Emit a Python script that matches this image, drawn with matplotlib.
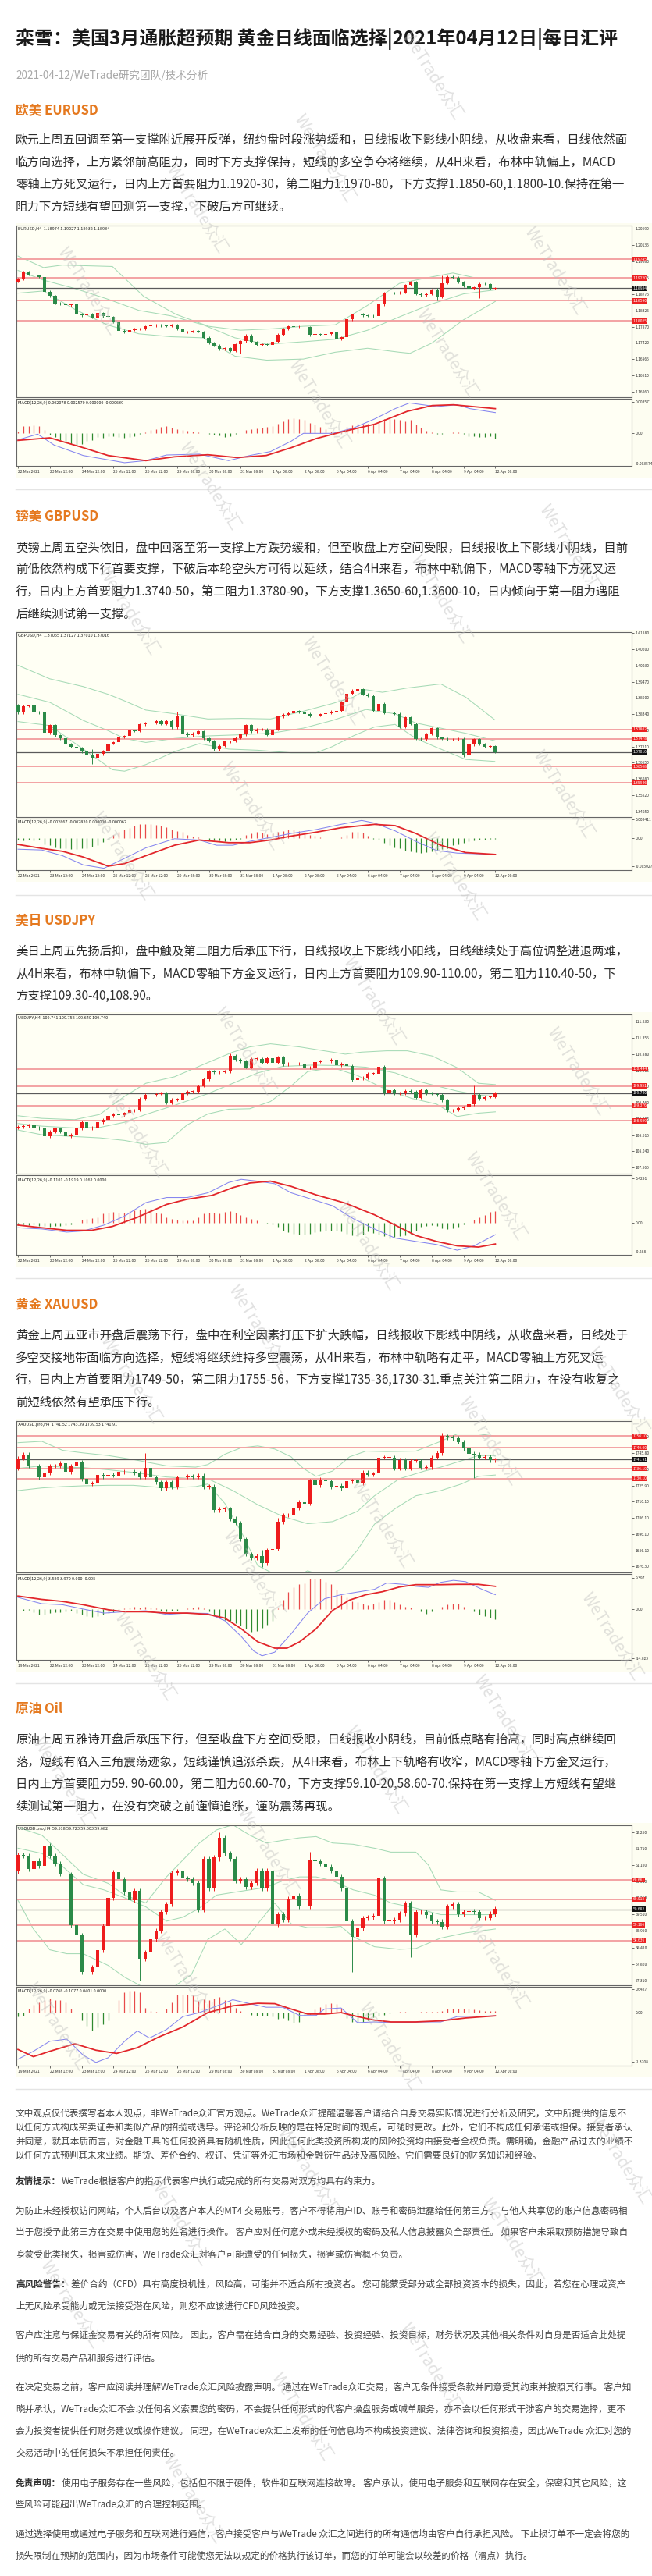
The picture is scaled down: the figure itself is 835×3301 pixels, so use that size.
import numpy as np
import matplotlib.pyplot as plt
from matplotlib.lines import Line2D
from matplotlib.patches import Rectangle

plt.rcParams['font.family'] = ['Noto Sans CJK SC', 'DejaVu Sans']

# ---------------- data ----------------
dates_a = ['22 Mar 2021', '23 Mar 12:00', '24 Mar 12:00', '25 Mar 12:00', '26 Mar 12:00', '29 Mar 08:00',
           '30 Mar 08:00', '31 Mar 08:00', '1 Apr 08:00', '2 Apr 08:00', '5 Apr 04:00', '6 Apr 04:00',
           '7 Apr 04:00', '8 Apr 04:00', '9 Apr 04:00', '12 Apr 00:00']
dates_b = ['19 Mar 2021', '22 Mar 12:00', '23 Mar 12:00', '24 Mar 12:00', '25 Mar 12:00', '26 Mar 12:00',
           '29 Mar 08:00', '30 Mar 08:00', '31 Mar 08:00', '1 Apr 08:00', '5 Apr 04:00', '6 Apr 04:00',
           '7 Apr 04:00', '8 Apr 04:00', '9 Apr 04:00', '12 Apr 00:00']

# EURUSD H4
eur_open0 = 1.1912
eur_close = [1.1920, 1.1940, 1.1932, 1.1928, 1.1925, 1.1884, 1.1872, 1.1852, 1.1850, 1.1846,
             1.1849, 1.1822, 1.1818, 1.1822, 1.1812, 1.1825, 1.1816, 1.1814, 1.1800, 1.1776,
             1.1771, 1.1778, 1.1781, 1.1781, 1.1788, 1.1790, 1.1791, 1.1790, 1.1788, 1.1791,
             1.1781, 1.1772, 1.1773, 1.1775, 1.1773, 1.1756, 1.1741, 1.1735, 1.1725, 1.1727,
             1.1719, 1.1738, 1.1746, 1.1763, 1.1745, 1.1737, 1.1738, 1.1736, 1.1745, 1.1765,
             1.1780, 1.1788, 1.1786, 1.1787, 1.1786, 1.1764, 1.1766, 1.1765, 1.1767, 1.1770,
             1.1753, 1.1758, 1.1807, 1.1820, 1.1822, 1.1818, 1.1817, 1.1816, 1.1848, 1.1880,
             1.1881, 1.1880, 1.1882, 1.1903, 1.1910, 1.1878, 1.1874, 1.1878, 1.1889, 1.1870,
             1.1908, 1.1925, 1.1923, 1.1911, 1.1900, 1.1893, 1.1896, 1.1906, 1.1905, 1.1893, 1.1893]
eur_tails = {19: (1.1808, 1.1762), 42: (1.1750, 1.1712), 62: (1.1810, 1.1748), 79: (1.1895, 1.1860),
             80: (1.1930, 1.1866), 87: (1.1909, 1.1866)}
eur_upper = [(0, 1.1983), (4.8, 1.1951), (8.4, 1.1958), (17.8, 1.1954), (23.7, 1.1871), (29.8, 1.1821),
             (35.9, 1.1788), (41.9, 1.1777), (48, 1.1781), (53.8, 1.1788), (59.8, 1.1792), (65.9, 1.1846),
             (71.9, 1.1907), (78, 1.1925), (82, 1.1936), (86, 1.1923), (90, 1.1920)]
eur_mid = [(0, 1.1943), (4.8, 1.1916), (10.7, 1.1893), (16.8, 1.1864), (22.8, 1.1832), (28.8, 1.1817),
           (34.9, 1.1792), (40.9, 1.1756), (46.9, 1.1738), (53.8, 1.1745), (59.8, 1.1752), (65.9, 1.1777),
           (71.9, 1.1814), (78, 1.1850), (84, 1.1878), (90, 1.1889)]
eur_lower = [(0, 1.1880), (4.8, 1.1886), (10.7, 1.1835), (16.8, 1.1792), (22.8, 1.1767), (28.8, 1.1759),
             (34.9, 1.1756), (40.9, 1.1705), (46.9, 1.1694), (53.8, 1.1697), (59.8, 1.1716), (65.9, 1.1727),
             (71.9, 1.1716), (73.9, 1.1713), (78, 1.1741), (84, 1.1806), (90, 1.1857)]
eur_levels = [1.19745, 1.19220, 1.18590, 1.18025]
eur_last = 1.18934
eur_ticks = [1.20590, 1.20135, 1.19680, 1.19225, 1.18775, 1.18325, 1.17870, 1.17420, 1.16965, 1.16510, 1.16060]
# MACD in units of 0.0001
eur_hist = [1.5, 7.6, 8.2, 8.5, 7.6, 3.0, -2.1, -5.2, -8.2, -11.2, -12.7, -15.2, -13.3, -9.7, -8.2, -5.2,
            -6.1, -4.2, -3.9, -5.2, -5.8, -4.5, -3.6, -1.5, 0.3, 3.0, 4.5, 7.0, 7.6, 6.4, 3.9, 3.0, 2.1,
            1.5, 0.9, 0.0, -1.2, -2.1, -2.7, -4.5, -3.9, -1.5, 0.0, 3.0, 3.9, 5.5, 6.1, 7.0, 7.6, 10.6,
            13.6, 16.1, 16.7, 16.1, 15.2, 11.5, 9.4, 7.0, 3.9, 1.5, -0.6, 0.9, 7.0, 9.1, 10.6, 10.6, 10.6,
            10.0, 12.4, 16.1, 16.1, 16.1, 15.2, 13.6, 15.5, 10.0, 6.4, 2.4, 0.9, -1.2, -1.5, -0.6, 0.9,
            0.9, -1.5, -3.6, -4.2, -4.5, -5.2, -4.2, -6.7]
eur_macd = [(0, -8.2), (3.7, -1.5), (6.8, -14.2), (12.3, -26.4), (20.1, -34.8), (24.1, -32.4), (28, -25.8),
            (34.2, -24.8), (39.7, -32.4), (43.7, -26.4), (47.6, -21.8), (51.5, -9.7), (53.8, -0.6),
            (59.3, -0.6), (63.2, 5.5), (67.2, 16.1), (71.1, 28.2), (73.8, 34.8), (78.9, 30.6), (82.8, 32.7),
            (85.2, 28.2), (90, 23.6)]
eur_signal = [(0, -8.8), (6, -5.8), (12.3, -17.3), (17, -26.4), (24.1, -32.4), (29.5, -27.9), (35.8, -25.5),
              (41.3, -28.8), (46.8, -26.4), (51.5, -17.3), (56.2, -6.7), (60.9, 0.9), (67.2, 10.0),
              (73.4, 25.1), (78.1, 31.8), (82.1, 32.7), (90, 28.2)]

# GBPUSD H4
gbp_open0 = 1.3866
gbp_close = [1.3839, 1.3862, 1.3863, 1.3841, 1.3839, 1.3768, 1.3796, 1.3760, 1.3749, 1.3729,
             1.3720, 1.3717, 1.3703, 1.3693, 1.3681, 1.3695, 1.3705, 1.3732, 1.3736, 1.3754,
             1.3758, 1.3776, 1.3775, 1.3798, 1.3803, 1.3803, 1.3810, 1.3799, 1.3810, 1.3787,
             1.3830, 1.3767, 1.3760, 1.3767, 1.3774, 1.3749, 1.3740, 1.3711, 1.3724, 1.3738,
             1.3739, 1.3751, 1.3763, 1.3796, 1.3774, 1.3780, 1.3780, 1.3762, 1.3780, 1.3825,
             1.3832, 1.3837, 1.3844, 1.3841, 1.3835, 1.3826, 1.3829, 1.3833, 1.3837, 1.3843,
             1.3845, 1.3876, 1.3906, 1.3917, 1.3921, 1.3903, 1.3898, 1.3846, 1.3870, 1.3837,
             1.3837, 1.3835, 1.3790, 1.3823, 1.3800, 1.3748, 1.3746, 1.3766, 1.3784, 1.3752,
             1.3748, 1.3746, 1.3746, 1.3748, 1.3693, 1.3728, 1.3746, 1.3730, 1.3721, 1.3722, 1.3702]
gbp_tails = {14: (1.3712, 1.3660), 30: (1.3842, 1.3783), 64: (1.3935, 1.3912), 84: (1.3752, 1.3685)}
gbp_upper = [(0, 1.4004), (6, 1.3957), (12.3, 1.3930), (17, 1.3903), (20.1, 1.3880), (24.1, 1.3848),
             (29.5, 1.3835), (35.8, 1.3817), (42.1, 1.3819), (47.6, 1.3817), (53.8, 1.3844), (59.3, 1.3871),
             (63.2, 1.3893), (65.6, 1.3919), (68.7, 1.3910), (73.4, 1.3925), (79.7, 1.3939), (84.4, 1.3893),
             (89.9, 1.3814)]
gbp_mid = [(0, 1.3903), (6, 1.3875), (12.3, 1.3812), (17, 1.3776), (20.1, 1.3749), (24.1, 1.3735),
           (29.5, 1.3749), (35.8, 1.3758), (42.1, 1.3762), (47.6, 1.3767), (53.8, 1.3785), (59.3, 1.3812),
           (65.6, 1.3850), (71.1, 1.3835), (75, 1.3803), (79.7, 1.3785), (84.4, 1.3767), (89.9, 1.3741)]
gbp_lower = [(0, 1.3808), (6, 1.3794), (12.3, 1.3712), (17.8, 1.3640), (20.1, 1.3635), (24.1, 1.3658),
             (29.5, 1.3703), (34.2, 1.3731), (39.7, 1.3712), (45.2, 1.3708), (51.5, 1.3699), (56.2, 1.3699),
             (59.3, 1.3721), (63.2, 1.3758), (67.2, 1.3789), (71.1, 1.3798), (75, 1.3749), (79.7, 1.3712),
             (84.4, 1.3676), (89.9, 1.3669)]
gbp_levels = [1.37802, 1.37478, 1.36508, 1.35946]
gbp_last = 1.37016
gbp_ticks = [1.41180, 1.40600, 1.40030, 1.39470, 1.38900, 1.38340, 1.37780, 1.37210, 1.36650, 1.36080,
             1.35520, 1.34950]
gbp_hist = [-3.3, -4.3, -2.4, -4.3, -3.3, -10.5, -12.8, -16.6, -17.6, -18.5, -20.0, -20.0, -18.5, -17.6,
            -15.2, -12.8, -7.1, -2.4, 5.2, 10.9, 15.7, 18.1, 22.8, 25.2, 25.2, 25.2, 24.2, 22.8, 19.5, 15.7,
            13.3, 10.9, 6.2, 2.4, 1.4, 0, -2.4, -4.3, -4.3, -5.7, -4.3, -3.3, -1.4, 5.2, 8.6, 10.9, 10.0,
            7.1, 8.6, 10.9, 13.3, 15.7, 15.7, 13.3, 10.9, 6.2, 3.8, 1.4, 0.5, 0.5, 0.5, 1.4, 5.2, 10.9,
            10.9, 10.0, 3.8, -1.0, -2.4, -8.1, -12.8, -16.6, -17.6, -22.3, -23.3, -24.7, -26.1, -24.7,
            -23.3, -21.4, -20.0, -17.6, -12.8, -10.5, -8.1, -5.7, -4.3, -3.3, -2.4, -1.4, -1.0]
gbp_macd = [(0, -20), (4.5, -21.4), (8.4, -31.8), (12.3, -48.5), (16.2, -54.6), (20.1, -36.6), (24.1, -17.6),
            (29.5, -1), (34.2, -3.3), (37.4, -12.8), (40.5, -12.8), (43.7, -5.7), (47.6, 1.4), (51.5, 8.6),
            (56.2, 15.7), (60.9, 25.2), (64.8, 32.3), (67.2, 27.6), (71.1, 13.3), (75, -5.7), (78.9, -22.3),
            (82.8, -27.1), (90, -29.5)]
gbp_signal = [(0, -11.4), (4.5, -18.5), (8.4, -23.8), (12.3, -34.2), (17, -50.8), (20.1, -46.1),
              (24.1, -31.8), (29.5, -12.8), (34.2, -3.3), (39.7, -8.1), (43.7, -8.1), (47.6, -3.3),
              (51.5, 3.8), (56.2, 10.9), (60.9, 19), (67.2, 25.2), (71.1, 22.8), (75, 8.6), (79.7, -12.8),
              (84.4, -26.1), (90, -29.5)]

# USDJPY H4
jpy_open0 = 108.724
jpy_close = [108.755, 108.777, 108.815, 108.739, 108.702, 108.474, 108.626, 108.702, 108.626, 108.474,
             108.527, 108.702, 108.891, 108.702, 108.739, 108.891, 108.967, 109.080, 109.118, 109.103,
             109.156, 109.232, 109.247, 109.573, 109.686, 109.686, 109.724, 109.739, 109.459, 109.558,
             109.558, 109.739, 109.785, 109.785, 109.951, 110.141, 110.368, 110.353, 110.360, 110.368,
             110.823, 110.709, 110.671, 110.497, 110.747, 110.747, 110.633, 110.762, 110.633, 110.785,
             110.573, 110.595, 110.595, 110.595, 110.482, 110.497, 110.656, 110.671, 110.671, 110.709,
             110.557, 110.595, 110.542, 110.118, 110.164, 110.194, 110.315, 110.315, 110.520, 109.739,
             109.838, 109.739, 109.739, 109.800, 109.785, 109.610, 109.838, 109.739, 109.724, 109.686,
             109.535, 109.232, 109.247, 109.308, 109.330, 109.421, 109.686, 109.573, 109.633, 109.633, 109.739]
jpy_tails = {40: (110.90, 110.35), 68: (110.56, 110.30), 81: (109.55, 109.18), 86: (109.96, 109.40)}
jpy_upper = [(0, 109.080), (4.5, 109.004), (10.7, 108.967), (15.4, 109.118), (20.1, 109.648), (24.1, 110.027),
             (29.5, 110.217), (35.8, 110.633), (40.5, 110.936), (43.7, 111.088), (47.6, 111.179),
             (53.1, 111.088), (59.3, 110.936), (61.7, 110.876), (64.8, 110.936), (69.5, 110.974),
             (73.4, 110.974), (78.1, 110.823), (82.8, 110.482), (86.8, 110.027), (90, 109.989)]
jpy_mid = [(0, 108.853), (4.5, 108.777), (10.7, 108.724), (15.4, 108.739), (20.1, 108.891), (24.1, 109.118),
           (29.5, 109.383), (35.8, 109.724), (40.5, 110.027), (45.2, 110.330), (49.9, 110.520), (55.4, 110.557),
           (60.9, 110.542), (65.6, 110.497), (71.1, 110.330), (75, 110.103), (78.9, 109.951), (82.8, 109.800),
           (86.8, 109.686), (90, 109.648)]
jpy_lower = [(0, 108.664), (4.5, 108.527), (10.7, 108.474), (15.4, 108.436), (20.1, 108.361), (24.1, 108.247),
             (28, 108.300), (31.9, 108.815), (35.8, 109.133), (39.7, 109.270), (43.7, 109.285), (47.6, 109.497),
             (51.5, 109.951), (54.6, 110.368), (59.3, 110.482), (64, 110.254), (69.5, 109.838), (74.2, 109.588),
             (78.9, 109.421), (82.8, 109.058), (86.8, 109.156), (90, 109.194)]
jpy_levels = [110.444, 109.951, 109.376, 108.929]
jpy_last = 109.740
jpy_ticks = [111.830, 111.355, 110.880, 110.405, 109.930, 109.460, 108.985, 108.515, 108.040, 107.565]
# histogram in units of 0.01
jpy_hist = [-2.5, -2.0, -2.5, -2.0, -3.0, -3.0, -3.8, -3.3, -3.0, -2.5, -1.8, 0, 3.0, 3.3, 4.3, 5.1, 8.9,
            9.9, 10.1, 9.9, 9.9, 10.9, 11.9, 12.7, 13.4, 13.2, 9.9, 8.9, 5.1, 3.8, 2.5, 1.8, 1.8, 2.3, 5.1,
            8.9, 9.4, 9.4, 8.9, 10.1, 11.4, 9.4, 7.6, 5.1, 3.8, 1.8, 0, -0.8, -1.8, -3.8, -7.6, -9.4, -10.9,
            -11.4, -11.9, -10.9, -9.4, -8.4, -7.6, -7.6, -7.6, -8.4, -10.9, -12.7, -13.4, -11.4, -8.9,
            -10.1, -11.9, -13.4, -15.2, -14.4, -13.4, -12.7, -10.9, -7.6, -4.3, -3.3, -2.5, -3.3, -5.8,
            -6.3, -5.8, -4.3, -1.8, 0, 2.5, 5.1, 7.6, 10.1, 11.4]
jpy_macd = [(0, -0.051), (4.5, -0.063), (9.2, -0.094), (12.3, -0.083), (16.2, -0.025), (20.1, 0.063),
            (24.1, 0.195), (28, 0.245), (31.9, 0.245), (35.8, 0.291), (39.7, 0.392), (42.1, 0.423),
            (45.2, 0.405), (48.4, 0.380), (51.5, 0.291), (56.2, 0.215), (59.3, 0.164), (63.2, 0.038),
            (67.2, -0.063), (71.1, -0.152), (75, -0.185), (78.9, -0.215), (82.8, -0.271), (86, -0.228),
            (90, -0.119)]
jpy_signal = [(0, -0.025), (4.5, -0.051), (9.2, -0.076), (13.9, -0.076), (17.8, -0.038), (22.5, 0.051),
              (28, 0.177), (31.9, 0.228), (36.6, 0.266), (40.5, 0.342), (43.7, 0.387), (47.6, 0.405),
              (51.5, 0.354), (56.2, 0.271), (61.7, 0.190), (67.2, 0.076), (71.1, -0.025), (75, -0.127),
              (78.9, -0.185), (82.8, -0.228), (86.8, -0.240), (90, -0.210)]

# XAUUSD H4
xau_open0 = 1736.3
xau_close = [1742.6, 1744.7, 1737.9, 1737.9, 1730.7, 1733.6, 1737.9, 1737.9, 1739.5, 1734.2,
             1737.9, 1740.3, 1730.0, 1726.8, 1727.3, 1732.3, 1731.5, 1732.3, 1732.0, 1734.2,
             1734.2, 1734.2, 1733.6, 1731.1, 1736.8, 1730.7, 1727.9, 1724.1, 1727.9, 1725.2,
             1730.7, 1731.1, 1731.5, 1731.1, 1732.0, 1725.2, 1725.2, 1710.9, 1711.4, 1711.7,
             1705.7, 1703.0, 1693.0, 1684.0, 1681.6, 1682.9, 1678.4, 1686.4, 1687.2, 1703.8,
             1707.8, 1707.8, 1712.0, 1715.7, 1714.9, 1728.8, 1726.0, 1729.5, 1728.4, 1725.2,
             1725.7, 1724.1, 1728.4, 1728.8, 1727.3, 1733.9, 1732.6, 1733.1, 1743.1, 1743.1,
             1743.1, 1736.3, 1741.5, 1736.3, 1741.1, 1741.1, 1736.8, 1737.1, 1743.1, 1745.8,
             1756.1, 1755.3, 1754.8, 1752.6, 1748.5, 1745.3, 1745.0, 1743.1, 1743.4, 1741.5, 1741.8]
xau_tails = {9: (1745.5, 1733.0), 24: (1745.8, 1730.0), 46: (1686.4, 1676.0), 49: (1706.0, 1686.0),
             80: (1758.3, 1744.5), 86: (1746.5, 1730.4)}
xau_upper = [(0, 1752.1), (4.5, 1752.9), (8.4, 1747.4), (12.3, 1745.8), (17, 1744.2), (21.7, 1741.8),
             (28, 1737.9), (33.5, 1737.1), (35.8, 1738.7), (39, 1745.0), (42.1, 1749.0), (45.2, 1750.1),
             (48.4, 1748.2), (51.5, 1743.4), (53.8, 1736.3), (56.2, 1731.5), (59.3, 1734.7), (62.5, 1743.4),
             (65.6, 1746.9), (69.5, 1746.6), (75, 1746.9), (79.7, 1752.9), (82.8, 1757.4), (86.8, 1757.4),
             (90, 1756.1)]
xau_mid = [(0, 1736.3), (4.5, 1737.9), (8.4, 1737.1), (12.3, 1736.8), (17, 1735.5), (21.7, 1733.9),
           (28, 1731.1), (33.5, 1730.0), (35.8, 1730.0), (40.5, 1722.8), (45.2, 1714.1), (49.9, 1707.0),
           (54.6, 1702.5), (59.3, 1703.8), (64, 1710.1), (67.2, 1719.6), (71.9, 1730.0), (76.6, 1734.7),
           (79.7, 1737.1), (83.6, 1741.0), (86.8, 1744.2), (90, 1744.2)]
xau_lower = [(0, 1722.8), (4.5, 1724.4), (8.4, 1725.2), (12.3, 1725.7), (17, 1726.0), (21.7, 1726.0),
             (28, 1724.4), (33.5, 1725.2), (35.8, 1726.8), (39, 1714.9), (42.1, 1697.5), (45.2, 1676.9),
             (47.6, 1672.9), (51.5, 1668.9), (54.6, 1673.7), (57.8, 1670.5), (60.9, 1674.5), (64, 1686.4),
             (67.2, 1702.2), (71.1, 1711.7), (75, 1719.6), (79.7, 1722.8), (83.6, 1726.8), (86.8, 1731.5),
             (90, 1732.3)]
xau_levels = [1756.10, 1749.00, 1736.10, 1730.10]
xau_last = 1741.91
xau_ticks = [1755.60, 1745.80, 1735.90, 1725.90, 1716.10, 1706.10, 1696.10, 1686.10, 1676.30]
xau_hist = [0, -0.4, -0.2, -1.0, -1.6, -1.6, -1.2, -1.0, -1.0, -0.8, -0.5, -1.2, -1.6, -2.1, -2.3, -2.1,
            -1.6, -1.2, -1.0, -0.2, 0.2, 0.5, 0.8, 0.5, 0.8, 0.4, 0.2, -0.5, -0.8, -0.5, -0.4, 0, 0.2, 0.4,
            0.8, 0.2, -0.8, -1.8, -2.3, -3.4, -3.5, -4.3, -4.9, -5.9, -6.8, -6.6, -5.7, -4.7, -3.5, 0.2,
            2.7, 5.1, 6.6, 7.4, 7.8, 9.2, 9.2, 9.0, 8.2, 7.4, 5.9, 4.3, 3.4, 2.3, 2.0, 1.6, 1.2, 1.6, 2.1,
            2.7, 2.9, 2.0, 1.3, 0.8, 0.4, 0, -0.8, -1.3, -0.8, 0, 0.8, 1.3, 1.7, 1.6, 0.8, 0, -0.8, -1.6,
            -2.1, -2.7, -3.1]
xau_macd = [(0, 3.5), (4.5, 1.6), (8.4, 1.3), (12.3, 0), (16.2, -1.2), (20.1, -0.8), (24.1, -0.5), (28, -1.6),
            (31.9, -1.2), (35.8, -1.3), (39, -3.5), (42.1, -8.2), (44.4, -12.5), (46, -14.0), (48.4, -12.9),
            (51.5, -7.4), (54.6, -1.2), (57.8, 3.1), (60.9, 4.3), (64, 5.1), (67.2, 5.9), (69.5, 7.8),
            (72.6, 7.4), (75, 6.8), (77.4, 6.5), (79.7, 8.0), (82.1, 8.6), (84.4, 8.2), (87.5, 5.9), (90, 4.3)]
xau_signal = [(0, 3.9), (4.5, 2.9), (8.4, 2.3), (12.3, 1.3), (17, -0.2), (20.1, -0.8), (24.1, -0.8), (28, -1.2),
              (31.9, -1.2), (35.8, -1.6), (39, -2.7), (42.1, -5.9), (45.2, -9.8), (48.4, -11.7), (50.7, -11.7),
              (53.1, -9.8), (56.2, -5.9), (59.3, -0.4), (62.5, 2.7), (65.6, 4.3), (68.7, 5.2), (71.9, 6.6),
              (75, 7.3), (79.7, 7.3), (82.8, 7.4), (86.8, 7.4), (90, 6.8)]

# USOUSD (oil) H4
oil_open0 = 60.94
oil_close = [61.50, 61.48, 61.03, 61.30, 61.13, 61.81, 61.46, 61.20, 60.87, 60.85,
             59.16, 58.81, 57.59, 57.59, 57.74, 58.33, 59.13, 60.07, 60.92, 60.68,
             60.24, 59.98, 60.29, 58.03, 58.25, 58.68, 58.98, 59.59, 59.85, 60.90,
             60.96, 60.72, 60.68, 60.55, 59.68, 61.37, 60.37, 61.42, 62.07, 61.55,
             61.36, 60.64, 60.68, 60.42, 60.57, 60.98, 60.37, 60.98, 59.18, 59.51,
             59.33, 60.03, 60.14, 59.77, 59.81, 61.33, 61.29, 61.20, 61.11, 60.98,
             60.77, 60.37, 59.29, 58.77, 59.05, 59.39, 59.42, 59.46, 60.72, 59.29,
             59.29, 59.33, 59.55, 59.88, 58.84, 59.59, 59.59, 59.48, 59.29, 59.27,
             59.11, 59.77, 59.85, 59.53, 59.59, 59.62, 59.59, 59.38, 59.39, 59.53, 59.71]
oil_tails = {13: (57.90, 57.20), 23: (60.35, 57.30), 38: (62.26, 61.30), 55: (61.60, 59.70),
             63: (59.30, 57.60), 68: (60.85, 59.40), 74: (59.90, 58.10)}
oil_upper = [(0, 62.416), (4.5, 62.156), (9.2, 61.374), (12.3, 60.852), (17, 60.548), (20.1, 60.157),
             (24.1, 59.896), (28, 60.765), (31.1, 61.330), (34.2, 61.895), (37.4, 62.330), (40.5, 62.503),
             (43.7, 62.156), (46.8, 61.895), (49.9, 61.982), (53.1, 62.069), (56.2, 62.112), (59.3, 61.895),
             (63.2, 61.852), (67.2, 61.721), (70.3, 61.591), (75, 61.591), (77.4, 61.156), (79.7, 60.331),
             (82.8, 60.261), (86.8, 60.261), (90, 59.983)]
oil_mid = [(0, 61.721), (4.5, 61.547), (8.4, 61.113), (12.3, 60.505), (16.2, 60.331), (20.1, 60.070),
           (24.1, 59.766), (28, 59.288), (31.1, 59.419), (34.2, 59.723), (37.4, 60.157), (40.5, 60.244),
           (43.7, 60.331), (46.8, 60.418), (49.9, 60.635), (53.1, 60.765), (56.2, 60.765), (59.3, 60.635),
           (63.2, 60.331), (67.2, 60.157), (70.3, 59.896), (75, 59.723), (79.7, 59.505), (84.4, 59.505),
           (90, 59.505)]
oil_lower = [(0, 59.983), (2.9, 59.027), (6, 58.332), (9.2, 58.202), (12.3, 58.202), (17, 57.811),
             (20.1, 57.420), (23.3, 57.116), (29.5, 57.116), (32.7, 57.507), (35.8, 58.680), (39, 59.027),
             (42.1, 58.506), (45.2, 59.201), (48.4, 59.896), (51.5, 59.201), (54.6, 59.071), (57.8, 59.071),
             (60.9, 59.114), (63.2, 58.767), (67.2, 58.436), (71.9, 58.349), (75, 58.376), (79.7, 58.723),
             (84.4, 58.897), (90, 59.027)]
oil_levels = [60.661, 60.018, 59.166, 58.636]
oil_last = 59.682
oil_ticks = [62.260, 61.710, 61.160, 60.610, 60.060, 59.510, 58.960, 58.410, 57.860, 57.310]
oil_hist = [-0.12, -0.09, 0.09, 0.20, 0.27, 0.33, 0.38, 0.35, 0.33, 0.27, 0.09, 0, -0.23, -0.37, -0.52,
            -0.43, -0.34, -0.23, 0, 0.35, 0.56, 0.60, 0.60, 0.56, 0.13, 0.04, 0.02, 0, 0.09, 0.27, 0.49,
            0.50, 0.50, 0.48, 0.31, 0.36, 0.33, 0.38, 0.42, 0.35, 0.27, 0.13, 0.04, 0, -0.07, -0.10, -0.10,
            -0.09, -0.12, -0.19, -0.17, -0.23, -0.30, -0.27, -0.09, -0.05, 0.07, 0.14, 0.24, 0.26, 0.22,
            0.13, -0.16, -0.27, -0.29, -0.30, -0.23, -0.14, -0.09, -0.07, -0.03, -0.01, 0.01, 0.01, -0.01,
            0, 0.01, 0.02, 0.01, 0.01, 0.04, 0.09, 0.09, 0.09, 0.09, 0.09, 0.07, 0.06, 0.04, 0.04, 0.04]
oil_macd = [(0, -1.31), (2.9, -1.09), (6, -0.81), (9.2, -0.75), (12.3, -1.20), (14.7, -1.40), (17, -1.27),
            (20.1, -0.81), (22.5, -0.52), (24.8, -0.72), (28, -0.48), (31.1, -0.12), (34.2, -0.01),
            (37.4, 0.17), (40.5, 0.35), (43.7, 0.24), (46.8, 0.14), (49.9, 0.14), (53.1, -0.09), (56.2, -0.09),
            (57.8, 0.09), (60.9, 0.12), (62.5, -0.09), (64, -0.29), (67.2, -0.27), (70.3, -0.29),
            (76.6, -0.27), (79.7, -0.27), (82.8, -0.12), (86.8, -0.11), (90, -0.10)]
oil_signal = [(0, -1.04), (2.9, -1.24), (6, -1.09), (10.7, -0.88), (14.7, -1.06), (18.6, -1.15), (22.5, -0.99),
              (26.4, -0.70), (31.1, -0.41), (35.8, -0.01), (40.5, 0.18), (45.2, 0.25), (48.4, 0.24),
              (51.5, 0.09), (54.6, -0.05), (57.8, -0.05), (60.9, -0.01), (64, -0.12), (67.2, -0.22),
              (70.3, -0.27), (75, -0.27), (79.7, -0.24), (84.4, -0.16), (90, -0.10)]

# ---------------- texts ----------------
title = '栾雪：美国3月通胀超预期 黄金日线面临选择|2021年04月12日|每日汇评'
byline = '2021-04-12/WeTrade研究团队/技术分析'
sections = [
    ('欧美 EURUSD', [
        '欧元上周五回调至第一支撑附近展开反弹，纽约盘时段涨势缓和，日线报收下影线小阴线，从收盘来看，日线依然面',
        '临方向选择，上方紧邻前高阻力，同时下方支撑保持，短线的多空争夺将继续，从4H来看，布林中轨偏上，MACD',
        '零轴上方死叉运行，日内上方首要阻力1.1920-30，第二阻力1.1970-80，下方支撑1.1850-60,1.1800-10.保持在第一',
        '阻力下方短线有望回测第一支撑，下破后方可继续。']),
    ('镑美 GBPUSD', [
        '英镑上周五空头依旧，盘中回落至第一支撑上方跌势缓和，但至收盘上方空间受限，日线报收上下影线小阴线，目前',
        '前低依然构成下行首要支撑，下破后本轮空头方可得以延续，结合4H来看，布林中轨偏下，MACD零轴下方死叉运',
        '行，日内上方首要阻力1.3740-50，第二阻力1.3780-90，下方支撑1.3650-60,1.3600-10，日内倾向于第一阻力遇阻',
        '后继续测试第一支撑。']),
    ('美日 USDJPY', [
        '美日上周五先扬后抑，盘中触及第二阻力后承压下行，日线报收上下影线小阳线，日线继续处于高位调整进退两难，',
        '从4H来看，布林中轨偏下，MACD零轴下方金叉运行，日内上方首要阻力109.90-110.00，第二阻力110.40-50，下',
        '方支撑109.30-40,108.90。']),
    ('黄金 XAUUSD', [
        '黄金上周五亚市开盘后震荡下行，盘中在利空因素打压下扩大跌幅，日线报收下影线中阴线，从收盘来看，日线处于',
        '多空交接地带面临方向选择，短线将继续维持多空震荡，从4H来看，布林中轨略有走平，MACD零轴上方死叉运',
        '行，日内上方首要阻力1749-50，第二阻力1755-56，下方支撑1735-36,1730-31.重点关注第二阻力，在没有收复之',
        '前短线依然有望承压下行。']),
    ('原油 Oil', [
        '原油上周五雅诗开盘后承压下行，但至收盘下方空间受限，日线报收小阴线，目前低点略有抬高，同时高点继续回',
        '落，短线有陷入三角震荡迹象，短线谨慎追涨杀跌，从4H来看，布林上下轨略有收窄，MACD零轴下方金叉运行，',
        '日内上方首要阻力59. 90-60.00，第二阻力60.60-70，下方支撑59.10-20,58.60-70.保持在第一支撑上方短线有望继',
        '续测试第一阻力，在没有突破之前谨慎追涨，谨防震荡再现。']),
]
disclaimer = [
    ('', '文中观点仅代表撰写者本人观点，非WeTrade众汇官方观点。WeTrade众汇提醒温馨客户请结合自身交易实际情况进行分析及研究，文中所提供的信息不'),
    ('', '以任何方式构成买卖证券和类似产品的招揽或诱导。评论和分析反映的是在特定时间的观点，可随时更改。此外，它们不构成任何承诺或担保。接受者承认'),
    ('', '并同意，就其本质而言，对金融工具的任何投资具有随机性质，因此任何此类投资所构成的风险投资均由接受者全权负责。需明确，金融产品过去的业绩不'),
    ('', '以任何方式预判其未来业绩。期货、差价合约、权证、凭证等外汇市场和金融衍生品涉及高风险。它们需要良好的财务知识和经验。'),
    ('友情提示：', 'WeTrade根据客户的指示代表客户执行或完成的所有交易对双方均具有约束力。'),
    ('', '为防止未经授权访问网站，个人后台以及客户本人的MT4 交易账号，客户不得将用户ID、账号和密码泄露给任何第三方。 与他人共享您的账户信息密码相'),
    ('', '当于您授予此第三方在交易中使用您的姓名进行操作。 客户应对任何意外或未经授权的密码及私人信息披露负全部责任。 如果客户未采取预防措施导致自'),
    ('', '身蒙受此类损失，损害或伤害，WeTrade众汇对客户可能遭受的任何损失，损害或伤害概不负责。'),
    ('高风险警告：', '差价合约（CFD）具有高度投机性，风险高，可能并不适合所有投资者。 您可能蒙受部分或全部投资资本的损失，因此，若您在心理或资产'),
    ('', '上无风险承受能力或无法接受潜在风险，则您不应该进行CFD风险投资。'),
    ('', '客户应注意与保证金交易有关的所有风险。 因此，客户需在结合自身的交易经验、投资经验、投资目标，财务状况及其他相关条件对自身是否适合此处提'),
    ('', '供的所有交易产品和服务进行评估。'),
    ('', '在决定交易之前，客户应阅读并理解WeTrade众汇风险披露声明。 通过在WeTrade众汇交易，客户无条件接受条款并同意受其约束并按照其行事。 客户知'),
    ('', '晓并承认，WeTrade众汇不会以任何名义索要您的密码，不会提供任何形式的代客户操盘服务或喊单服务，亦不会以任何形式干涉客户的交易选择，更不'),
    ('', '会为投资者提供任何财务建议或操作建议。 同理，在WeTrade众汇上发布的任何信息均不构成投资建议、法律咨询和投资招揽，因此WeTrade 众汇对您的'),
    ('', '交易活动中的任何损失不承担任何责任。'),
    ('免责声明：', '使用电子服务存在一些风险，包括但不限于硬件，软件和互联网连接故障。 客户承认，使用电子服务和互联网存在安全，保密和其它风险，这'),
    ('', '些风险可能超出WeTrade众汇的合理控制范围。'),
    ('', '通过选择使用或通过电子服务和互联网进行通信，客户接受客户与WeTrade 众汇之间进行的所有通信均由客户自行承担风险。 下止损订单不一定会将您的'),
    ('', '损失限制在预期的范围内，因为市场条件可能使您无法以规定的价格执行该订单，而您的订单可能会以较差的价格（滑点）执行。'),
]

# ---------------- layout ----------------
W, H = 835, 3301
fig = plt.figure(figsize=(W / 100, H / 100), dpi=100)
fig.patch.set_facecolor('white')


def fx(x):
    return x / W


def fy(y):
    return 1 - y / H


def put(x, y, s, size, color='#333333', bold=False):
    fig.text(fx(x), fy(y), s, fontsize=size, color=color, ha='left', va='center',
             fontweight='bold' if bold else 'normal')


def knots(ax, pts, **kw):
    p = np.array(pts)
    ax.plot(p[:, 0], p[:, 1], **kw)


def draw_chart(c, box):
    top, mid, mtop, bot = box
    L, R = 21, 809
    fig.add_artist(Rectangle((fx(L), fy(bot + 15)), 1 - fx(L), (bot + 15 - top + 3) / H,
                             transform=fig.transFigure, fc='#fdfdf1', ec='none', zorder=-1))
    ax = fig.add_axes([fx(L), fy(mid), (R - L) / W, (mid - top) / H])
    ax.set_facecolor('#fffff4')
    cl = np.array(c['close'])
    op = np.r_[c['open0'], cl[:-1]]
    x = np.arange(len(cl))
    col = np.where(cl >= op, '#ee1c1c', '#2b8a48')
    hi = np.maximum(op, cl) + c['wick']
    lo = np.minimum(op, cl) - c['wick']
    for i, (h, l) in c['tails'].items():
        hi[i] = max(hi[i], h)
        lo[i] = min(lo[i], l)
    ax.vlines(x, lo, hi, colors=col, lw=0.7, zorder=3)
    ax.bar(x, np.maximum(np.abs(cl - op), c['doji']), bottom=np.minimum(op, cl), width=0.62,
           color=col, lw=0, zorder=4)
    for k in ('upper', 'mid', 'lower'):
        knots(ax, c[k], color='#a6dab6', lw=0.75, zorder=2)
    for lv in c['levels']:
        ax.axhline(lv, color='#f3a3a3', lw=1.4, zorder=2.5)
        ax.text(1.002, lv, c['fmt'] % lv, transform=ax.get_yaxis_transform(), fontsize=3.6, color='white',
                va='center', ha='left', clip_on=False, zorder=6,
                bbox=dict(boxstyle='square,pad=0.15', fc='#ec2222', ec='none'))
    ax.axhline(c['last'], color='#5a5a5a', lw=0.9, zorder=2.6)
    ax.text(1.002, c['last'], c['fmt'] % c['last'], transform=ax.get_yaxis_transform(), fontsize=3.6,
            color='white', va='center', ha='left', clip_on=False, zorder=6,
            bbox=dict(boxstyle='square,pad=0.15', fc='#111111', ec='none'))
    ax.set_xlim(-0.3, 115.7)
    ax.set_ylim(*c['ylim'])
    ax.yaxis.tick_right()
    ax.set_yticks(c['ticks'])
    ax.set_yticklabels([c['fmt'] % t for t in c['ticks']])
    ax.tick_params(axis='y', labelsize=3.6, length=2, pad=1.5, colors='#333333', width=0.5)
    ax.set_xticks([])
    ax.text(0.003, 0.99, c['title'], transform=ax.transAxes, fontsize=4, va='top', color='#222222')

    mx = fig.add_axes([fx(L), fy(bot), (R - L) / W, (bot - mtop) / H])
    mx.set_facecolor('#fffff4')
    hv = np.array(c['hist']) * c['hunit']
    mx.vlines(np.arange(len(hv)), 0, hv, colors=np.where(hv >= 0, '#e84a4a', '#2f8a2f'), lw=0.9)
    knots(mx, c['macd'], color='#8585ef', lw=0.75, zorder=3)
    knots(mx, c['signal'], color='#e2262b', lw=1.3, zorder=4)
    mx.set_xlim(-0.3, 115.7)
    mx.set_ylim(*c['mylim'])
    mx.yaxis.tick_right()
    mx.set_yticks(c['mticks'])
    mx.set_yticklabels(c['mlabels'])
    mx.set_xticks([6 * i for i in range(len(c['dates']))])
    mx.set_xticklabels(c['dates'], ha='left')
    mx.tick_params(labelsize=3.6, length=2, pad=1.5, colors='#333333', width=0.5)
    mx.text(0.003, 0.97, c['mtitle'], transform=mx.transAxes, fontsize=4, va='top', color='#222222')
    for a in (ax, mx):
        for s in a.spines.values():
            s.set_color('#666666')
            s.set_linewidth(0.8)


charts = [
    dict(open0=eur_open0, close=eur_close, tails=eur_tails, wick=0.0003, doji=0.00006,
         upper=eur_upper, mid=eur_mid, lower=eur_lower, levels=eur_levels, last=eur_last, fmt='%.5f',
         ticks=eur_ticks, ylim=(1.15911, 1.20677), title='EURUSD,H4  1.18974 1.19027 1.18932 1.18934',
         hist=eur_hist, hunit=1, macd=eur_macd, signal=eur_signal, mylim=(-38.5, 39.7),
         mticks=[35.71, 0, -35.74], mlabels=['0.003571', '0.00', '-0.003574'], dates=dates_a,
         mtitle='MACD(12,26,9) 0.002078 0.002570 0.000000 -0.000639'),
    dict(open0=gbp_open0, close=gbp_close, tails=gbp_tails, wick=0.0004, doji=0.00008,
         upper=gbp_upper, mid=gbp_mid, lower=gbp_lower, levels=gbp_levels, last=gbp_last, fmt='%.5f',
         ticks=gbp_ticks, ylim=(1.34751, 1.41198), title='GBPUSD,H4  1.37055 1.37127 1.37010 1.37016',
         hist=gbp_hist, hunit=1, macd=gbp_macd, signal=gbp_signal, mylim=(-58.0, 35.6),
         mticks=[34.11, 0, -50.27], mlabels=['0.003411', '0.00', '-0.005027'], dates=dates_a,
         mtitle='MACD(12,26,9) -0.002867 -0.002820 0.000000 -0.000062'),
    dict(open0=jpy_open0, close=jpy_close, tails=jpy_tails, wick=0.04, doji=0.008,
         upper=jpy_upper, mid=jpy_mid, lower=jpy_lower, levels=jpy_levels, last=jpy_last, fmt='%.3f',
         ticks=jpy_ticks, ylim=(107.391, 112.035), title='USDJPY,H4  109.741 109.758 109.640 109.740',
         hist=jpy_hist, hunit=0.01, macd=jpy_macd, signal=jpy_signal, mylim=(-0.316, 0.463),
         mticks=[0.4291, 0, -0.288], mlabels=['0.4291', '0.00', '-0.288'], dates=dates_a,
         mtitle='MACD(12,26,9) -0.1101 -0.1919 0.1062 0.0000'),
    dict(open0=xau_open0, close=xau_close, tails=xau_tails, wick=1.3, doji=0.25,
         upper=xau_upper, mid=xau_mid, lower=xau_lower, levels=xau_levels, last=xau_last, fmt='%.2f',
         ticks=xau_ticks, ylim=(1672.7, 1765.3), title='XAUUSD.pro,H4  1741.52 1743.39 1739.53 1741.91',
         hist=xau_hist, hunit=1, macd=xau_macd, signal=xau_signal, mylim=(-15.2, 10.5),
         mticks=[9.397, 0, -14.623], mlabels=['9.397', '0.00', '-14.623'], dates=dates_b,
         mtitle='MACD(12,26,9) 3.589 3.970 0.000 -0.095'),
    dict(open0=oil_open0, close=oil_close, tails=oil_tails, wick=0.08, doji=0.015,
         upper=oil_upper, mid=oil_mid, lower=oil_lower, levels=oil_levels, last=oil_last, fmt='%.3f',
         ticks=oil_ticks, ylim=(57.15, 62.486), title='USOUSD.pro,H4  59.518 59.723 59.503 59.682',
         hist=oil_hist, hunit=1, macd=oil_macd, signal=oil_signal, mylim=(-1.49, 0.71),
         mticks=[0.6427, 0, -1.3708], mlabels=['0.6427', '0.00', '-1.3708'], dates=dates_b,
         mtitle='MACD(12,26,9) -0.0768 -0.1077 0.0401 0.0000'),
]

# pixel layout of each block: header y, first text line y, chart box, separator y
blocks = [
    (142, 180, (289, 509, 511, 597), 627),
    (662, 702, (810, 1047, 1049, 1115), 1147),
    (1180, 1220, (1300, 1504, 1506, 1608), 1638),
    (1672, 1712, (1821, 2015, 2017, 2127), 2157),
    (2190, 2230, (2339, 2544, 2546, 2647), 2677),
]

put(20, 50, title, 17.3, color='#1a1a1a', bold=True)
put(20, 97, byline, 9.8, color='#a8a8a8')

for (head, lines), c, (hy, ty, box, sep) in zip(sections, charts, blocks):
    put(20, hy, head, 12, color='#e5791f', bold=True)
    for k, s in enumerate(lines):
        put(20, ty + 28.3 * k, s, 11.1, color='#2e2e2e')
    draw_chart(c, box)
    fig.add_artist(Line2D([fx(20), 1], [fy(sep), fy(sep)], color='#e4e4e4', lw=1))

disc_y = [2708, 2726, 2744, 2762, 2795, 2833, 2860, 2889, 2927, 2955, 2992, 3022, 3059, 3087, 3115, 3143,
          3182, 3209, 3247, 3275]
for (bold, rest), y in zip(disclaimer, disc_y):
    x0 = 20
    if bold:
        put(x0, y, bold, 8.4, color='#333333', bold=True)
        x0 += 11.8 * len(bold)
    put(x0, y, rest, 8.4, color='#444444')

# WeTrade watermark tiling
ang = np.degrees(np.arctan2(255, 160))
offs = [123, 18, 203, 97, 33]
for k in range(-16, 6):
    x0 = -111 + 205 * k
    off = offs[k % 5]
    for j in range(-1, 15):
        y = off + 250 * j
        x = x0 + (y - 18) * 160 / 255
        if 40 < x < W - 40 and 60 < y < H - 60:
            fig.text(fx(x), fy(y), 'WeTrade众汇', rotation=-ang, rotation_mode='anchor', ha='center',
                     va='center', fontsize=15, color='#bdbdbd', alpha=0.45, zorder=10)

fig.savefig('out.png', dpi=100)
